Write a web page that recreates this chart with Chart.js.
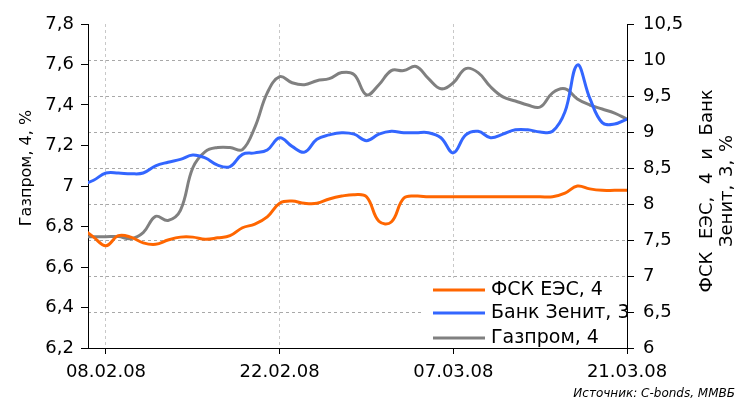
<!DOCTYPE html>
<html>
<head>
<meta charset="utf-8">
<script src="https://cdn.jsdelivr.net/npm/chart.js@4.4.0/dist/chart.umd.min.js"></script>
<style>
  html, body { margin: 0; padding: 0; background: #fff; }
</style>
</head>
<body>
<canvas id="chart1" width="736" height="401"></canvas>
<script>
// данные (ежедневно)
const dates = [
  '06.02.08', '07.02.08', '08.02.08', '09.02.08', '10.02.08', '11.02.08', '12.02.08', '13.02.08',
  '14.02.08', '15.02.08', '16.02.08', '17.02.08', '18.02.08', '19.02.08', '20.02.08', '21.02.08',
  '22.02.08', '23.02.08', '24.02.08', '25.02.08', '26.02.08', '27.02.08', '28.02.08', '29.02.08',
  '01.03.08', '02.03.08', '03.03.08', '04.03.08', '05.03.08', '06.03.08', '07.03.08', '08.03.08',
  '09.03.08', '10.03.08', '11.03.08', '12.03.08', '13.03.08', '14.03.08', '15.03.08', '16.03.08',
  '17.03.08', '18.03.08', '19.03.08', '20.03.08', '21.03.08'
];
const fsk = [
  7.67, 7.54, 7.42, 7.56, 7.54, 7.46, 7.44, 7.50, 7.54, 7.54, 7.51, 7.53, 7.56, 7.67, 7.72, 7.82,
  8.01, 8.04, 8.01, 8.01, 8.07, 8.11, 8.13, 8.10, 7.76, 7.75, 8.08, 8.11, 8.10, 8.10, 8.10, 8.10,
  8.10, 8.10, 8.10, 8.10, 8.10, 8.10, 8.10, 8.15, 8.25, 8.21, 8.19, 8.19, 8.19
];
const zenit = [
  8.26, 8.33, 8.43, 8.43, 8.42, 8.43, 8.53, 8.58, 8.62, 8.68, 8.64, 8.54, 8.52, 8.69, 8.71, 8.75,
  8.92, 8.80, 8.72, 8.90, 8.96, 8.99, 8.97, 8.88, 8.97, 9.01, 8.99, 8.99, 8.99, 8.92, 8.71, 8.96,
  9.01, 8.92, 8.97, 9.03, 9.03, 9.00, 9.01, 9.28, 9.93, 9.47, 9.13, 9.11, 9.18
];
const gazprom = [
  6.75, 6.75, 6.75, 6.75, 6.74, 6.77, 6.85, 6.83, 6.88, 7.09, 7.17, 7.19, 7.19, 7.18, 7.29, 7.46,
  7.54, 7.51, 7.50, 7.52, 7.53, 7.56, 7.55, 7.45, 7.50, 7.57, 7.57, 7.59, 7.53, 7.48, 7.51, 7.58,
  7.56, 7.49, 7.44, 7.42, 7.40, 7.39, 7.46, 7.48, 7.43, 7.40, 7.38, 7.36, 7.33
];
const xTickLabels = ['08.02.08', '22.02.08', '07.03.08', '21.03.08'];
const seriesNames = ['ФСК ЕЭС, 4', 'Банк Зенит, 3', 'Газпром, 4'];
const seriesColors = ['#ff6600', '#3366ff', '#808080'];
const leftTitle = 'Газпром, 4, %';
const rightTitle = ['ФСК ЕЭС, 4 и Банк', 'Зенит, 3, %'];
const sourceNote = 'Источник: C-bonds, ММВБ';

const FONT = 'DejaVu Sans';

// дата -> номер дня от 08.02.08
function dayOf(s) {
  const [d, m, y] = s.split('.').map(Number);
  return (Date.UTC(2000 + y, m - 1, d) - Date.UTC(2008, 1, 8)) / 86400000;
}
const toPoints = (arr) => arr.map((v, i) => ({ x: dayOf(dates[i]), y: v }));
const fmt = (v) => String(Math.round(v * 10) / 10).replace('.', ',');

const extras = {
  id: 'extras',
  beforeDatasetsDraw(chart) {
    const { ctx, chartArea: a } = chart;
    ctx.save();
    ctx.fillStyle = '#fff';
    ctx.fillRect(a.left + 334, a.top + 254, a.right - a.left - 335, a.bottom - a.top - 255);
    ctx.restore();
  },
  afterDatasetsDraw(chart) {
    const { ctx, chartArea: a } = chart;
    ctx.save();
    ctx.font = '19px "' + FONT + '"';
    ctx.textBaseline = 'middle';
    ctx.textAlign = 'left';
    const rows = [a.top + 266, a.top + 289, a.top + 314];
    chart.data.datasets.forEach((ds, i) => {
      ctx.strokeStyle = ds.borderColor;
      ctx.lineWidth = 3;
      ctx.beginPath();
      ctx.moveTo(a.left + 345, rows[i]);
      ctx.lineTo(a.left + 397, rows[i]);
      ctx.stroke();
      ctx.fillStyle = '#000';
      ctx.fillText(ds.label, a.left + 403, rows[i]);
    });
    ctx.restore();
  },
  afterDraw(chart) {
    const { ctx } = chart;
    ctx.save();
    ctx.fillStyle = '#000';
    ctx.textAlign = 'center';
    ctx.textBaseline = 'middle';
    ctx.font = '16px "' + FONT + '"';
    ctx.translate(27, 168);
    ctx.rotate(-Math.PI / 2);
    ctx.fillText(leftTitle, 0, 0);
    ctx.restore();

    ctx.save();
    ctx.fillStyle = '#000';
    ctx.textAlign = 'center';
    ctx.textBaseline = 'middle';
    ctx.font = '18px "' + FONT + '"';
    ctx.translate(707, 191);
    ctx.rotate(-Math.PI / 2);
    ctx.wordSpacing = '7px';
    ctx.fillText(rightTitle[0], 0, 0);
    ctx.wordSpacing = '2px';
    ctx.fillText(rightTitle[1], 0, 20);
    ctx.restore();

    ctx.save();
    ctx.fillStyle = '#000';
    ctx.font = 'italic 12px "' + FONT + '"';
    ctx.textAlign = 'right';
    ctx.textBaseline = 'alphabetic';
    ctx.fillText(sourceNote, 735, 397);
    ctx.restore();
  }
};

new Chart(document.getElementById('chart1'), {
  type: 'line',
  data: {
    datasets: [
      { label: seriesNames[0], data: toPoints(fsk), yAxisID: 'yR', borderColor: seriesColors[0] },
      { label: seriesNames[1], data: toPoints(zenit), yAxisID: 'yR', borderColor: seriesColors[1] },
      { label: seriesNames[2], data: toPoints(gazprom), yAxisID: 'yL', borderColor: seriesColors[2] }
    ]
  },
  options: {
    responsive: false,
    animation: false,
    devicePixelRatio: 1,
    layout: { padding: { top: 24, left: 0, right: 0, bottom: 0 } },
    elements: {
      line: { borderWidth: 3, tension: 0.4, fill: false },
      point: { radius: 0 }
    },
    plugins: {
      legend: { display: false },
      tooltip: { enabled: false }
    },
    scales: {
      x: {
        type: 'linear',
        min: -1.45,
        max: 42,
        afterFit: (s) => { s.height = 53; },
        afterBuildTicks: (s) => { s.ticks = xTickLabels.map((t) => ({ value: dayOf(t) })); },
        ticks: {
          font: { family: FONT, size: 18 },
          color: '#000',
          padding: 8,
          maxRotation: 0,
          callback: (v) => xTickLabels.find((t) => dayOf(t) === v) || ''
        },
        grid: {
          color: (c) => (c.tick && c.tick.value === 42 ? 'rgba(0,0,0,0)' : '#c8c8c8'),
          tickColor: '#000',
          tickLength: 6
        },
        border: { color: '#000', width: 1, dash: [3, 3] }
      },
      yL: {
        position: 'left',
        min: 6.2,
        max: 7.8,
        afterFit: (s) => { s.width = 88; },
        ticks: {
          stepSize: 0.2,
          font: { family: FONT, size: 18 },
          color: '#000',
          padding: 7,
          callback: fmt
        },
        grid: { drawOnChartArea: false, tickColor: '#000', tickLength: 7 },
        border: { color: '#000', width: 1 }
      },
      yR: {
        position: 'right',
        min: 6,
        max: 10.5,
        afterFit: (s) => { s.width = 109; },
        ticks: {
          stepSize: 0.5,
          font: { family: FONT, size: 18 },
          color: '#000',
          padding: 9,
          callback: fmt
        },
        grid: {
          color: (c) => (c.tick && (c.tick.value === 6 || c.tick.value === 10.5) ? 'rgba(0,0,0,0)' : '#a8a8a8'),
          tickColor: '#000',
          tickLength: 7
        },
        border: { color: '#000', width: 1, dash: [3, 3] }
      }
    }
  },
  plugins: [extras]
});
</script>
</body>
</html>
